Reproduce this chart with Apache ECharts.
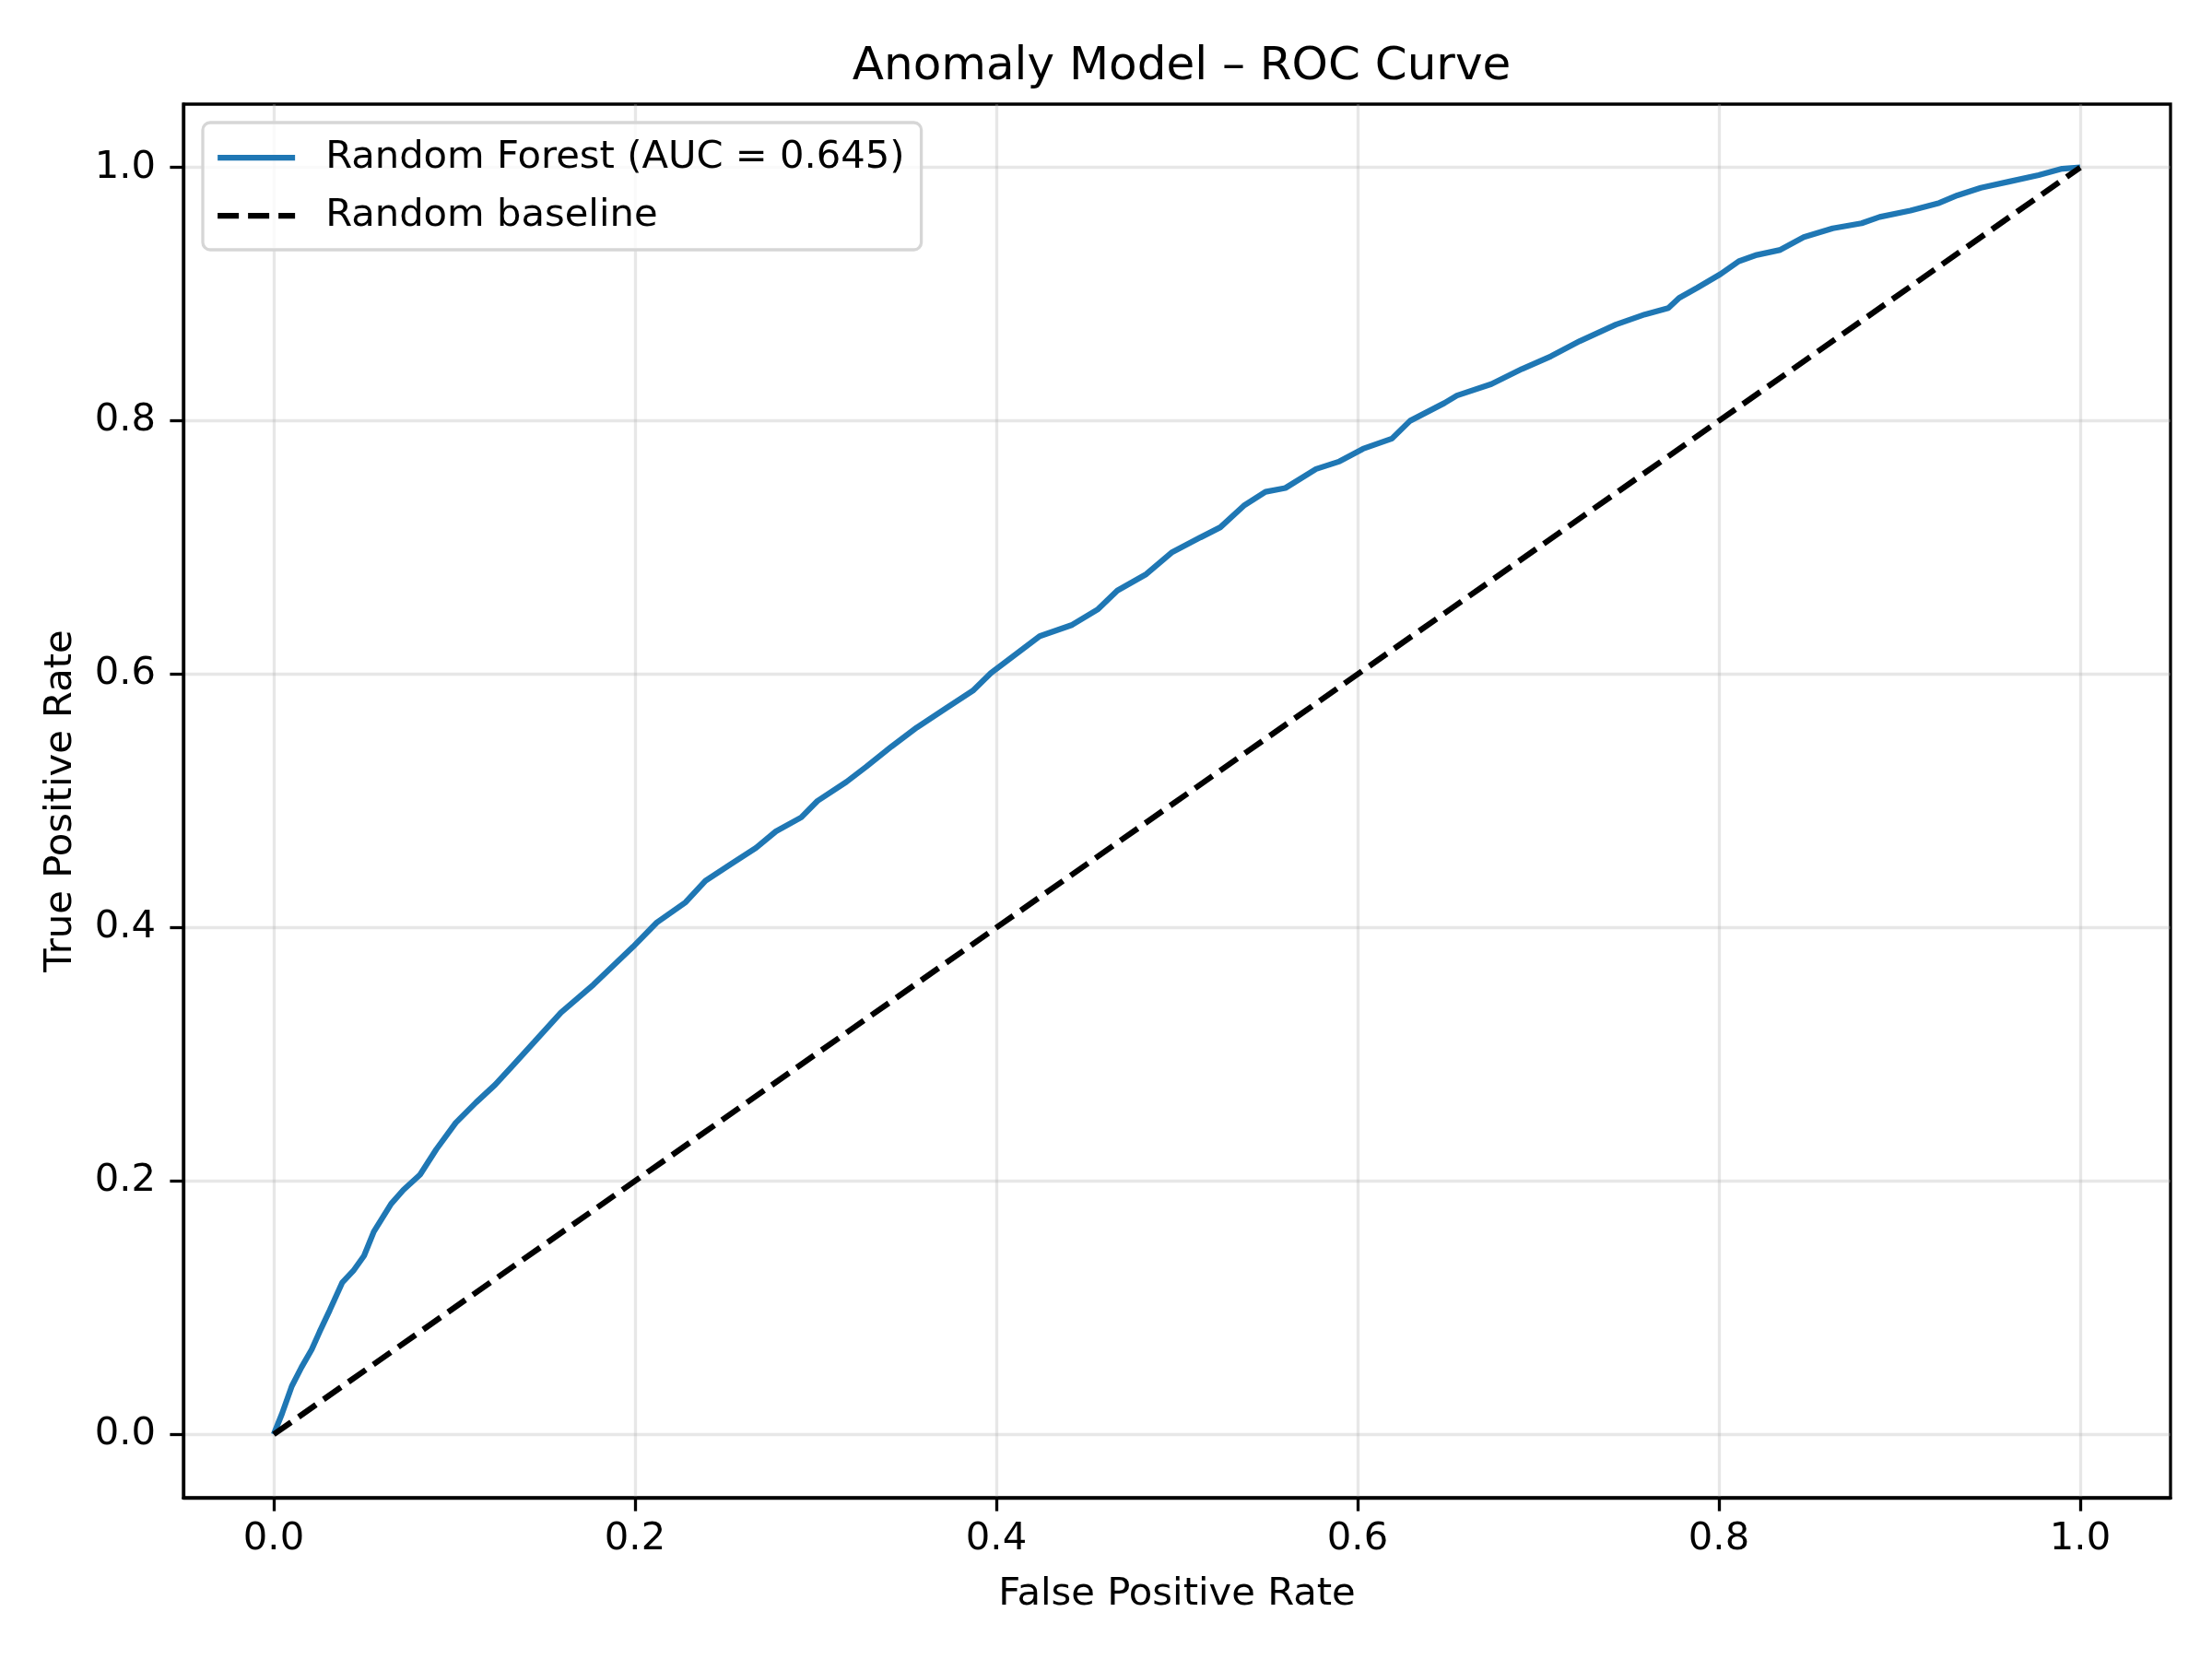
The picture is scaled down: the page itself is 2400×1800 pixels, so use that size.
<!DOCTYPE html>
<html>
<head>
<meta charset="utf-8">
<script src="https://cdn.jsdelivr.net/npm/echarts@6/dist/echarts.min.js"></script>
<style>
  html, body { margin: 0; padding: 0; background: #fff; }
  #main { width: 2400px; height: 1800px; }
</style>
</head>
<body>
<div id="main"></div>
<script>
// ROC curve points
const fpr = [
  0, 0.0045, 0.01, 0.0154, 0.021, 0.0254, 0.031, 0.038, 0.044, 0.05,
  0.0554, 0.065, 0.0718, 0.081, 0.09, 0.1008, 0.112, 0.1226, 0.1335, 0.1444,
  0.159, 0.177, 0.199, 0.212, 0.228, 0.239, 0.253, 0.267, 0.278, 0.292,
  0.301, 0.317, 0.328, 0.342, 0.356, 0.372, 0.387, 0.397, 0.41, 0.424,
  0.442, 0.456, 0.467, 0.483, 0.497, 0.513, 0.524, 0.537, 0.549, 0.56,
  0.577, 0.59, 0.603, 0.619, 0.629, 0.648, 0.655, 0.674, 0.691, 0.707,
  0.723, 0.743, 0.759, 0.772, 0.778, 0.788, 0.801, 0.811, 0.821, 0.834,
  0.847, 0.863, 0.879, 0.889, 0.906, 0.922, 0.932, 0.945, 0.961, 0.977,
  0.99, 1.0
];
const tpr = [
  0, 0.016, 0.038, 0.053, 0.067, 0.081, 0.098, 0.12, 0.129, 0.141,
  0.16, 0.182, 0.193, 0.205, 0.225, 0.246, 0.262, 0.276, 0.293, 0.31,
  0.333, 0.355, 0.385, 0.404, 0.42, 0.437, 0.45, 0.463, 0.476, 0.487,
  0.5, 0.515, 0.527, 0.543, 0.558, 0.573, 0.587, 0.601, 0.615, 0.63,
  0.639, 0.651, 0.666, 0.679, 0.696, 0.708, 0.716, 0.733, 0.744, 0.747,
  0.762, 0.768, 0.778, 0.786, 0.8, 0.814, 0.82, 0.829, 0.841, 0.851,
  0.863, 0.876, 0.884, 0.889, 0.897, 0.905, 0.916, 0.926, 0.931, 0.935,
  0.945, 0.952, 0.956, 0.961, 0.966, 0.972, 0.978, 0.984, 0.989, 0.994,
  0.999, 1.0
];
const baseX = [0, 1];
const baseY = [0, 1];
const tickValues = [0, 0.2, 0.4, 0.6, 0.8, 1.0];

const FONT = "DejaVu Sans";
const fs = 41.7;
const lw = 6.25;

const rocData = fpr.map((x, i) => [x, tpr[i]]);
const baseData = baseX.map((x, i) => [x, baseY[i]]);

const axisCommon = {
  type: "value",
  min: -0.05,
  max: 1.05,
  nameLocation: "middle",
  nameTextStyle: { fontFamily: FONT, fontSize: fs, color: "#000" },
  axisLine: { show: true, onZero: false, lineStyle: { color: "#000", width: 3.3 } },
  axisTick: { show: true, inside: false, length: 14.6, customValues: tickValues,
              lineStyle: { color: "#000", width: 3.3 } },
  axisLabel: { customValues: tickValues, fontFamily: FONT, fontSize: fs, color: "#000",
               formatter: (v) => v.toFixed(1) },
  splitLine: { show: true, lineStyle: { color: "#b0b0b0", opacity: 0.3, width: 3.3 } },
};

const chart = echarts.init(document.getElementById("main"), null, { renderer: "canvas" });

chart.setOption({
  animation: false,
  backgroundColor: "#fff",
  title: {
    text: "Anomaly Model \u2013 ROC Curve",
    left: 1277,
    textAlign: "center",
    top: 43,
    textStyle: { fontFamily: FONT, fontSize: 50, fontWeight: "normal", color: "#000" },
  },
  legend: {
    orient: "vertical",
    left: 220,
    top: 133,
    padding: [16, 18, 15, 13],
    itemWidth: 84,
    itemHeight: 20,
    itemGap: 19,
    backgroundColor: "rgba(255,255,255,0.8)",
    borderColor: "#d6d6d6",
    borderWidth: 3.3,
    borderRadius: 8,
    lineStyle: { width: lw },
    itemStyle: { color: "transparent", borderWidth: 0, opacity: 0 },
    textStyle: { fontFamily: FONT, fontSize: fs, color: "#000", lineHeight: 44,
                 padding: [0, 0, 0, 28] },
    data: ["Random Forest (AUC = 0.645)", "Random baseline"],
  },
  grid: {
    left: 199,
    right: 45,
    top: 113,
    bottom: 175,
    show: true,
    borderColor: "#000",
    borderWidth: 3.3,
  },
  xAxis: Object.assign({}, axisCommon, {
    name: "False Positive Rate",
    nameGap: 84,
    axisLabel: Object.assign({}, axisCommon.axisLabel, { margin: 24 }),
  }),
  yAxis: Object.assign({}, axisCommon, {
    name: "True Positive Rate",
    nameGap: 112,
    axisLabel: Object.assign({}, axisCommon.axisLabel, { margin: 30 }),
  }),
  series: [
    {
      name: "Random Forest (AUC = 0.645)",
      type: "line",
      data: rocData,
      symbol: "none",
      color: "#1f77b4",
      lineStyle: { color: "#1f77b4", width: lw },
      z: 3,
    },
    {
      name: "Random baseline",
      type: "line",
      data: baseData,
      symbol: "none",
      color: "#000",
      lineStyle: { color: "#000", width: lw, type: [23, 10] },
      z: 4,
    },
  ],
});
</script>
</body>
</html>
